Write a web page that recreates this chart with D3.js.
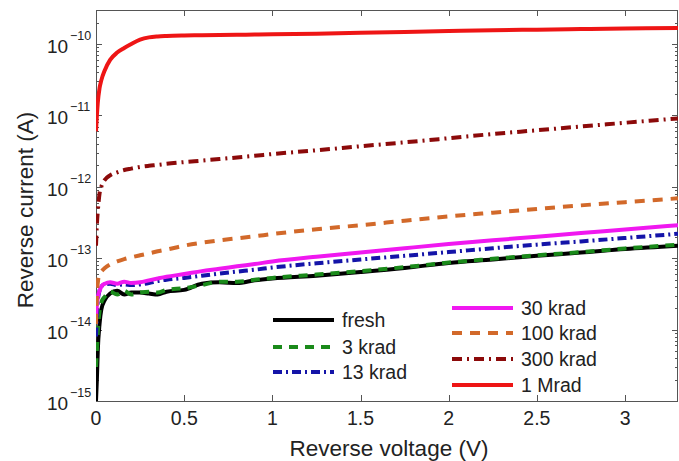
<!DOCTYPE html>
<html>
<head>
<meta charset="utf-8">
<script src="https://cdn.jsdelivr.net/npm/d3@7"></script>
<style>
  body { margin: 0; background: #fff; }
  svg { display: block; font-family: "Liberation Sans", Arial, sans-serif; }
</style>
</head>
<body>
<svg id="chart" width="679" height="461"></svg>
<script>
// voltage grid (V), shared by all curves
var volts = [0, 0.005, 0.01, 0.02, 0.03, 0.05, 0.08, 0.12, 0.16, 0.2, 0.25, 0.3, 0.35, 0.4,
  0.5, 0.6, 0.7, 0.8, 0.9, 1.0, 1.25, 1.5, 1.75, 2.0, 2.25, 2.5, 2.75, 3.0, 3.3];

// reverse current (A) per dose
var fresh = [1.0e-15, 2e-15, 5e-15, 1.2e-14, 1.9e-14, 2.6e-14, 3.2e-14, 3.5e-14, 3.1e-14, 3.3e-14, 3.3e-14, 3.2e-14, 3.1e-14, 3.4e-14,
  3.6e-14, 4.4e-14, 4.6e-14, 4.5e-14, 4.9e-14, 5.2e-14, 5.7e-14, 6.4e-14, 7.3e-14, 8.6e-14, 9.6e-14, 1.08e-13, 1.2e-13, 1.35e-13, 1.5e-13];
var krad3 = [3e-15, 5e-15, 9e-15, 1.8e-14, 2.4e-14, 2.9e-14, 3.4e-14, 3.1e-14, 3.5e-14, 3.1e-14, 3.3e-14, 3.4e-14, 3.3e-14, 3.6e-14,
  3.8e-14, 4.2e-14, 4.7e-14, 4.7e-14, 5.0e-14, 5.3e-14, 5.9e-14, 6.6e-14, 7.5e-14, 8.7e-14, 9.8e-14, 1.1e-13, 1.22e-13, 1.37e-13, 1.55e-13];
var krad13 = [8e-15, 1.5e-14, 2.5e-14, 3.5e-14, 4.0e-14, 4.3e-14, 4.4e-14, 4.2e-14, 4.3e-14, 4.2e-14, 4.3e-14, 4.5e-14, 4.8e-14, 5.0e-14,
  5.3e-14, 5.7e-14, 6.1e-14, 6.5e-14, 6.9e-14, 7.4e-14, 8.5e-14, 9.6e-14, 1.08e-13, 1.22e-13, 1.38e-13, 1.55e-13, 1.72e-13, 1.92e-13, 2.2e-13];
var krad30 = [1.5e-14, 2.2e-14, 2.8e-14, 3.5e-14, 4.0e-14, 4.4e-14, 4.6e-14, 4.4e-14, 4.7e-14, 4.5e-14, 4.6e-14, 4.9e-14, 5.2e-14, 5.5e-14,
  6.0e-14, 6.6e-14, 7.1e-14, 7.7e-14, 8.3e-14, 9.0e-14, 1.05e-13, 1.2e-13, 1.38e-13, 1.58e-13, 1.78e-13, 2.0e-13, 2.25e-13, 2.52e-13, 2.9e-13];
var krad100 = [1.2e-14, 3e-14, 4.5e-14, 6e-14, 6.5e-14, 7.3e-14, 8.2e-14, 9.0e-14, 9.7e-14, 1.03e-13, 1.1e-13, 1.17e-13, 1.25e-13, 1.32e-13,
  1.5e-13, 1.65e-13, 1.78e-13, 1.9e-13, 2.03e-13, 2.18e-13, 2.55e-13, 2.9e-13, 3.35e-13, 3.85e-13, 4.35e-13, 4.9e-13, 5.5e-13, 6.1e-13, 6.9e-13];
var krad300 = [1.5e-13, 3e-13, 4.5e-13, 8e-13, 1.0e-12, 1.25e-12, 1.45e-12, 1.6e-12, 1.72e-12, 1.8e-12, 1.9e-12, 1.97e-12, 2.03e-12, 2.1e-12,
  2.22e-12, 2.33e-12, 2.45e-12, 2.58e-12, 2.72e-12, 2.88e-12, 3.25e-12, 3.7e-12, 4.2e-12, 4.8e-12, 5.5e-12, 6.2e-12, 7.0e-12, 7.9e-12, 9.1e-12];
var mrad1 = [6e-12, 1.0e-11, 1.5e-11, 2.4e-11, 3.1e-11, 4.3e-11, 6e-11, 7.6e-11, 8.8e-11, 1.0e-10, 1.15e-10, 1.24e-10, 1.28e-10, 1.30e-10,
  1.32e-10, 1.33e-10, 1.34e-10, 1.35e-10, 1.36e-10, 1.37e-10, 1.40e-10, 1.44e-10, 1.48e-10, 1.52e-10, 1.56e-10, 1.59e-10, 1.62e-10, 1.65e-10, 1.68e-10];

var labels = ["fresh", "3 krad", "13 krad", "30 krad", "100 krad", "300 krad", "1 Mrad"];
var xTicks = [0, 0.5, 1, 1.5, 2, 2.5, 3];
var yTicks = [1e-15, 1e-14, 1e-13, 1e-12, 1e-11, 1e-10];

var series = [
  {name: labels[0], values: fresh,   color: "#000000", dash: null},
  {name: labels[1], values: krad3,   color: "#1a8a1a", dash: "9,7"},
  {name: labels[2], values: krad13,  color: "#1414a8", dash: "9,4,2,4"},
  {name: labels[3], values: krad30,  color: "#f018f0", dash: null},
  {name: labels[4], values: krad100, color: "#d2692a", dash: "10,8"},
  {name: labels[5], values: krad300, color: "#8c0a0a", dash: "10,5,2,5"},
  {name: labels[6], values: mrad1,   color: "#ee1515", dash: null}
];

var margin = {left: 96, top: 10, right: 1, bottom: 60};
var svg = d3.select("#chart");
var W = +svg.attr("width"), H = +svg.attr("height");
var x0 = margin.left, x1 = W - margin.right, y0 = margin.top, y1 = H - margin.bottom;

var x = d3.scaleLinear().domain([0, 3.3]).range([x0, x1]);
var y = d3.scaleLog().domain([1e-15, 3e-10]).range([y1, y0]);

svg.append("defs").append("clipPath").attr("id", "clip")
  .append("rect").attr("x", x0).attr("y", y0).attr("width", x1 - x0).attr("height", y1 - y0);

// minor log ticks
var minor = [];
for (var e = -15; e <= -10; e++) {
  for (var m = 2; m <= 9; m++) {
    var v = m * Math.pow(10, e);
    if (v <= 3e-10) minor.push(v);
  }
}

var axisColor = "#555";
var ticksG = svg.append("g").attr("stroke", axisColor).attr("stroke-width", 1);
minor.forEach(function(v) {
  var yy = Math.round(y(v)) + 0.5;
  ticksG.append("line").attr("x1", x0).attr("x2", x0 + 3).attr("y1", yy).attr("y2", yy);
  ticksG.append("line").attr("x1", x1).attr("x2", x1 - 3).attr("y1", yy).attr("y2", yy);
});
yTicks.forEach(function(v) {
  var yy = Math.round(y(v)) + 0.5;
  ticksG.append("line").attr("x1", x0).attr("x2", x0 + 6).attr("y1", yy).attr("y2", yy);
  ticksG.append("line").attr("x1", x1).attr("x2", x1 - 6).attr("y1", yy).attr("y2", yy);
});
xTicks.forEach(function(v) {
  var xx = Math.round(x(v)) + 0.5;
  ticksG.append("line").attr("x1", xx).attr("x2", xx).attr("y1", y1).attr("y2", y1 - 6);
  ticksG.append("line").attr("x1", xx).attr("x2", xx).attr("y1", y0).attr("y2", y0 + 6);
});

// box
svg.append("rect").attr("x", x0 + 0.5).attr("y", y0 + 0.5)
  .attr("width", x1 - x0 - 1).attr("height", y1 - y0)
  .attr("fill", "none").attr("stroke", axisColor).attr("stroke-width", 1);

// tick labels
svg.append("g").selectAll("text").data(xTicks).enter().append("text")
  .attr("x", function(d) { return x(d); })
  .attr("y", y1 + 24)
  .attr("text-anchor", "middle")
  .attr("font-size", 19.5)
  .attr("fill", "#222")
  .text(function(d) { return d; });

var yl = svg.append("g").selectAll("text").data(yTicks).enter().append("text")
  .attr("x", 68)
  .attr("y", function(d) { return y(d) + 9; })
  .attr("text-anchor", "start")
  .attr("font-size", 19)
  .attr("fill", "#222");
yl.append("tspan")
  .attr("x", 47)
  .text("10");
yl.append("tspan")
  .attr("x", 70)
  .attr("font-size", 12.5)
  .attr("dy", -13)
  .text(function(d) { return "\u2212" + Math.round(-Math.log10(d)); });

// axis titles
svg.append("text")
  .attr("x", 389)
  .attr("y", 456)
  .attr("text-anchor", "middle")
  .attr("font-size", 22.5)
  .attr("fill", "#222")
  .text("Reverse voltage (V)");

svg.append("text")
  .attr("transform", "translate(33,210) rotate(-90)")
  .attr("text-anchor", "middle")
  .attr("font-size", 22.5)
  .attr("fill", "#222")
  .text("Reverse current (A)");

// curves
var line = d3.line()
  .x(function(d) { return x(d[0]); })
  .y(function(d) { return y(d[1]); })
  .curve(d3.curveMonotoneX);

var plot = svg.append("g").attr("clip-path", "url(#clip)");
series.forEach(function(s) {
  var pts = volts.map(function(v, i) { return [v, s.values[i]]; });
  plot.append("path")
    .datum(pts)
    .attr("d", line)
    .attr("fill", "none")
    .attr("stroke", s.color)
    .attr("stroke-width", 4)
    .attr("stroke-dasharray", s.dash);
});

// legend, two columns
var legPos = [
  {lx: 273, ty: 320}, {lx: 273, ty: 347}, {lx: 273, ty: 372},
  {lx: 452, ty: 308}, {lx: 452, ty: 333}, {lx: 452, ty: 359}, {lx: 452, ty: 385}
];
var leg = svg.append("g");
series.forEach(function(s, i) {
  var p = legPos[i];
  leg.append("line")
    .attr("x1", p.lx).attr("x2", p.lx + 61)
    .attr("y1", p.ty).attr("y2", p.ty)
    .attr("stroke", s.color)
    .attr("stroke-width", 4)
    .attr("stroke-dasharray", s.dash);
  leg.append("text")
    .attr("x", p.lx + 69)
    .attr("y", p.ty + 7)
    .attr("font-size", 19.5)
    .attr("fill", "#222")
    .text(s.name);
});
</script>
</body>
</html>
